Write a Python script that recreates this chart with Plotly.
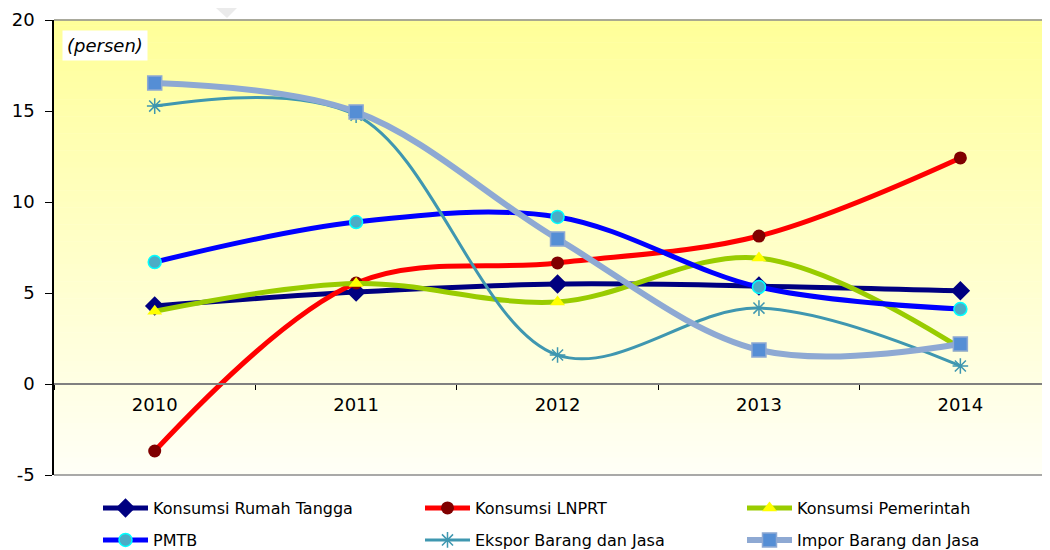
import plotly.graph_objects as go

years = ["2010", "2011", "2012", "2013", "2014"]
rumah_tangga = [4.29, 5.05, 5.49, 5.38, 5.12]
lnprt = [-3.68, 5.55, 6.65, 8.13, 12.42]
pemerintah = [4.0, 5.52, 4.51, 6.92, 1.98]
pmtb = [6.70, 8.90, 9.18, 5.33, 4.12]
ekspor = [15.27, 14.77, 1.59, 4.17, 0.99]
impor = [16.54, 14.95, 7.97, 1.87, 2.20]
y_ticks = [-5, 0, 5, 10, 15, 20]
y_tick_text = ["-5", "0", "5", "10", "15", "20"]

FONT = "DejaVu Sans"
# page body has an 8px margin; figure coordinates = screen - 8
W, H = 1042, 542
L, R, T, B = 46, 0, 12, 75

fig = go.Figure()

def add(name, vals, lc, lw, sym, ms, mc, mlc=None, mlw=0, leg="legend"):
    fig.add_trace(go.Scatter(
        x=years, y=vals, name=name, mode="lines+markers", legend=leg,
        line=dict(color=lc, width=lw, shape="spline", smoothing=1.0),
        marker=dict(symbol=sym, size=ms, color=mc,
                    line=dict(color=mlc if mlc else mc, width=mlw)),
    ))

add("Konsumsi Rumah Tangga", rumah_tangga, "#000080", 5, "diamond", 15, "#000080")
add("Konsumsi LNPRT", lnprt, "#FF0000", 5, "circle", 13, "#800000")
add("Konsumsi Pemerintah", pemerintah, "#99CC00", 5, "triangle-up", 13, "#FFFF00")
add("PMTB", pmtb, "#0000FF", 5, "circle", 13, "#4BACC6", "#00FFFF", 1.5, leg="legend2")
add("Ekspor Barang dan Jasa", ekspor, "#3F97B0", 3, "asterisk-open", 13, "#3F97B0", "#3F97B0", 1.5, leg="legend2")
add("Impor Barang dan Jasa", impor, "#8EA9D3", 6, "square", 14, "#558ED5", "#8EA9D3", 1.5, leg="legend2")

pw, ph = W - L - R, H - T - B
def px(x): return (x - L) / pw
def py(y): return 1 - (y - T) / ph

# gradient background bands
shapes = []
n = 80
top = (255, 255, 153)
bot = (255, 255, 246)
for i in range(n):
    f = i / (n - 1)
    c = tuple(round(top[k] + (bot[k] - top[k]) * f) for k in range(3))
    shapes.append(dict(type="rect", xref="paper", yref="paper",
                       x0=0, x1=1, y0=1 - (i + 1) / n, y1=1 - i / n + 0.001,
                       fillcolor="rgb(%d,%d,%d)" % c, line=dict(width=0), layer="below"))
# borders
shapes.append(dict(type="line", xref="paper", yref="paper", x0=0, x1=1, y0=1, y1=1,
                   line=dict(color="#8C8C8C", width=1.5), layer="below"))
shapes.append(dict(type="line", xref="paper", yref="paper", x0=0, x1=1, y0=0, y1=0,
                   line=dict(color="#8C8C8C", width=1.5), layer="below"))
# faint watermark fragment
shapes.append(dict(type="path", xref="paper", yref="paper",
                   path="M %f,%f L %f,%f L %f,%f L %f,%f Z" % (px(197), py(-10), px(219), py(10), px(232), py(-3), px(227), py(-10)),
                   fillcolor="#EBEBEB", line=dict(width=0), layer="below"))

legend_common = dict(orientation="h", xanchor="left", yanchor="top",
                     entrywidth=262, entrywidthmode="pixels", itemwidth=45,
                     font=dict(family=FONT, size=16, color="black"),
                     bgcolor="rgba(0,0,0,0)", traceorder="normal")

fig.update_layout(
    width=W, height=H,
    margin=dict(l=L, r=R, t=T, b=B, autoexpand=False),
    paper_bgcolor="white", plot_bgcolor="white",
    font=dict(family=FONT, size=16, color="black"),
    shapes=shapes,
    showlegend=True,
    legend=dict(x=px(90), y=py(483), **legend_common),
    legend2=dict(x=px(90), y=py(515), **legend_common),
    annotations=[dict(text="<i>(persen)</i>", xref="paper", yref="paper",
                      x=px(54), y=py(22), xanchor="left", yanchor="top", showarrow=False,
                      font=dict(family=FONT, size=18, color="black"),
                      bgcolor="white", borderpad=4)],
)

fig.update_xaxes(type="category", range=[-0.5, 4.445], anchor="free", position=0.2,
                 showline=True, linecolor="#808080", linewidth=1.5,
                 ticks="outside", tickson="boundaries", ticklen=5, tickcolor="black",
                 showgrid=False, zeroline=False, ticklabelstandoff=5,
                 tickfont=dict(family=FONT, size=18, color="black"))
fig.update_yaxes(range=[-5, 20], tickvals=y_ticks, ticktext=y_tick_text, showline=True,
                 linecolor="black", linewidth=1.5, ticks="outside", ticklen=7, tickcolor="black",
                 showgrid=False, zeroline=False, ticklabelstandoff=7,
                 tickfont=dict(family=FONT, size=18, color="black"))

fig.write_html("out.html")
